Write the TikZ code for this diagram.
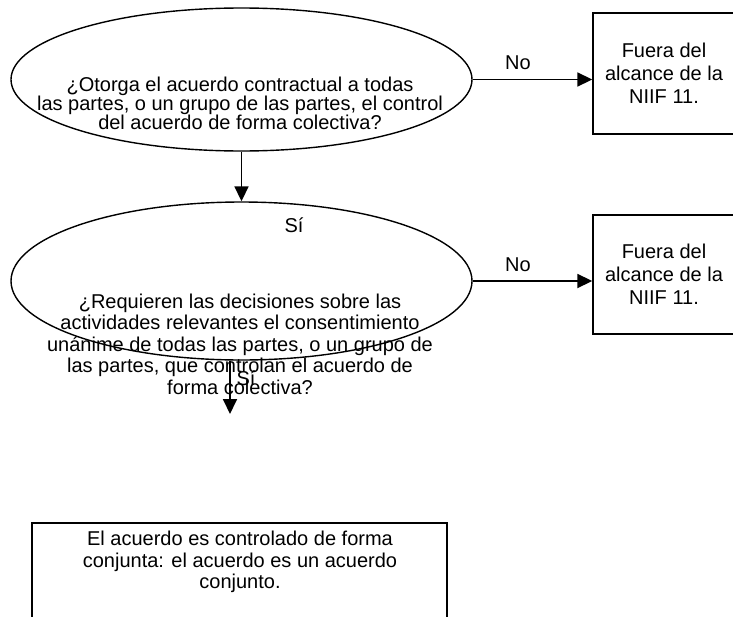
\documentclass[tikz,border=0pt]{standalone}
\usepackage{fontspec}
\setmainfont{Liberation Sans}
\usetikzlibrary{shapes.geometric,arrows.meta}
\begin{document}
\begin{tikzpicture}[x=1pt,y=-1pt,
  shape line/.style={draw=black, line width=1.4pt},
  oval/.style={shape line, ellipse, inner sep=0pt},
  boxnode/.style={shape line, rectangle, inner sep=0pt, align=center},
  txt/.style={align=center, inner sep=0pt},
  arr/.style={line width=1.8pt, -{Triangle[length=15pt,width=14pt]}},
  lbl/.style={inner sep=0pt}]
\useasboundingbox (0,0) rectangle (733,616);
\clip (0,0) rectangle (733,616);
\fontsize{20}{22}\selectfont
% ellipses
\node[oval, minimum width=461pt, minimum height=143pt] (e1) at (241.5,79.5) {};
\node[oval, minimum width=461pt, minimum height=158pt] (e2) at (241.5,281) {};
\node[txt, font=\fontsize{20}{19}\selectfont] (t1) at (240,103)
  {¿Otorga el acuerdo contractual a todas\\las partes, o un grupo de las partes, el control\\del acuerdo de forma colectiva?};
\node[txt, font=\fontsize{20}{21.5}\selectfont] (t2) at (240,344)
  {¿Requieren las decisiones sobre las\\actividades relevantes el consentimiento\\unánime de todas las partes, o un grupo de\\las partes, que controlan el acuerdo de\\forma colectiva?};
% right boxes
\node[boxnode, minimum width=142pt, minimum height=121pt, font=\fontsize{20}{23}\selectfont] (b1) at (664,73.5)
  {Fuera del\\alcance de la\\NIIF 11.};
\node[boxnode, minimum width=142pt, minimum height=119pt, font=\fontsize{20}{23}\selectfont] (b2) at (664,274.5)
  {Fuera del\\alcance de la\\NIIF 11.};
% bottom box
\node[boxnode, minimum width=415pt, minimum height=117pt] (b3) at (239.5,581.5) {};
\node[txt, font=\fontsize{20}{21.5}\selectfont] (t3) at (240,562)
  {El acuerdo es controlado de forma\\conjunta: el acuerdo es un acuerdo\\conjunto.};
% connectors
\draw[arr] (e1.east) -- (e1.east -| b1.west);
\draw[arr] (e2.east) -- (e2.east -| b2.west);
\draw[arr] (e1.south) -- (e2.north);
\coordinate (a2end) at (230,414);
\draw[arr] (a2end |- e2.south) -- (a2end);
% labels
\node[lbl] (no1) at (518,63) {No};
\node[lbl] (no2) at (518,265) {No};
\node[lbl] (si1) at (294,225) {Sí};
\node[lbl] (si2) at (246,378) {Sí};
\end{tikzpicture}
\end{document}
